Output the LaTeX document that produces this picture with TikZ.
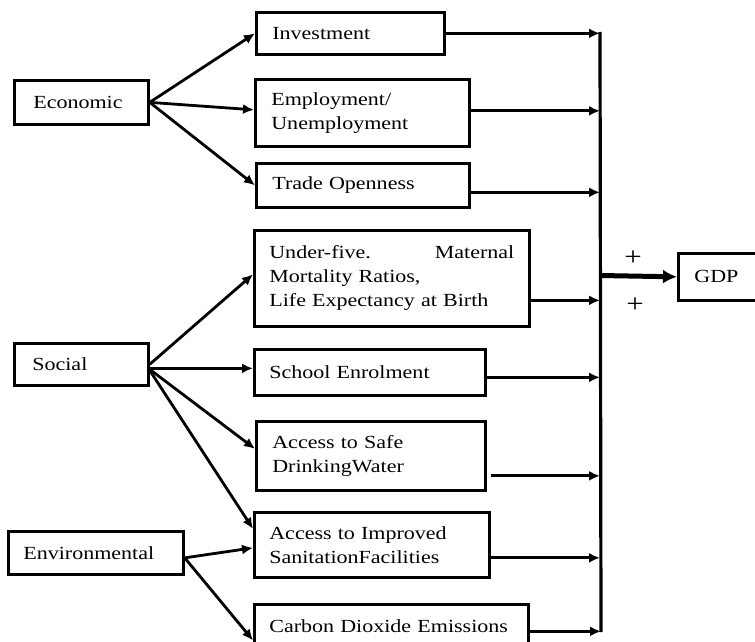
\documentclass[tikz,border=0pt]{standalone}
\usepackage{fontspec}
\setmainfont{Liberation Serif}[FakeStretch=1.19]
\usetikzlibrary{arrows.meta}
\begin{document}
\begin{tikzpicture}[x=1pt,y=-1pt,
  box/.style={draw, line width=2.7pt, anchor=north west, align=left,
    font=\fontsize{18.5}{24}\selectfont, inner ysep=0pt},
  conn/.style={line width=2.8pt, -{Latex[length=11pt,width=10pt]}},
  plus/.style={font=\fontsize{26}{26}\selectfont, inner sep=0pt}]
\clip (0,0) rectangle (755,642);
\useasboundingbox (0,0) rectangle (755,642);
% left category boxes
\node[box, minimum width=134pt, minimum height=44pt, text width=96pt, inner xsep=19pt] (eco) at (13,79) {Economic};
\node[box, minimum width=134pt, minimum height=42pt, text width=98pt, inner xsep=18pt] (soc) at (13,342) {Social};
\node[box, minimum width=175pt, minimum height=43pt, text width=145pt, inner xsep=15pt] (env) at (7,530) {Environmental};
% middle indicator boxes
\node[box, minimum width=188pt, minimum height=42pt, text width=156pt, inner xsep=16pt] (inv) at (255,11) {Investment};
\node[box, minimum width=214pt, minimum height=67pt, text width=182pt, inner xsep=16pt] (emp) at (254,78) {Employment/\\Unemployment};
\node[box, minimum width=213pt, minimum height=44pt, text width=181pt, inner xsep=16pt] (trade) at (255,162) {Trade Openness};
\node[box, minimum width=275pt, minimum height=96pt, text width=245pt, inner xsep=15pt] (under) at (253,229) {Under-five.\hfill Maternal\\Mortality Ratios,\\Life Expectancy at Birth};
\node[box, minimum width=231pt, minimum height=46pt, text width=201pt, inner xsep=15pt] (school) at (253,348) {School Enrolment};
\node[box, minimum width=229pt, minimum height=69pt, text width=197pt, inner xsep=16pt] (safe) at (255,420) {Access to Safe\\DrinkingWater};
\node[box, minimum width=235pt, minimum height=65pt, text width=205pt, inner xsep=15pt] (impr) at (253,511) {Access to Improved\\SanitationFacilities};
\node[box, minimum width=274pt, minimum height=44pt, text width=244pt, inner xsep=15pt] (carbon) at (253,603) {Carbon Dioxide Emissions};
% GDP
\node[box, minimum width=95pt, minimum height=47pt, text width=63pt, inner xsep=16pt] (gdp) at (677,252) {GDP};
% bus
\coordinate (bustop) at (600,32);
\coordinate (busbot) at (601,632);
\coordinate (busout) at (600,275.5);
\draw[line width=3.2pt] (bustop) -- (busbot);
% economic arrows
\draw[conn] (eco.east) -- (inv.west);
\draw[conn] (eco.east) -- ([yshift=3pt]emp.west);
\draw[conn] (eco.east) -- (trade.west);
% social arrows
\draw[conn] (soc.east) -- ([yshift=4pt]under.west);
\draw[conn] ([yshift=-4pt]soc.east) -- ([yshift=4pt]school.west);
\draw[conn] ([yshift=-5pt]soc.east) -- ([yshift=7pt]safe.west);
\draw[conn] ([yshift=-6pt]soc.east) -- ([yshift=16pt]impr.west);
% environmental arrows
\draw[conn] ([yshift=-5pt]env.east) -- ([yshift=-3pt]impr.west);
\draw[conn] ([yshift=-5pt]env.east) -- ([yshift=-14pt]carbon.west);
% to the bus
\draw[conn] (inv.east) -- (inv.east -| bustop);
\draw[conn] ([yshift=2pt]emp.east) -- ([yshift=2pt]emp.east -| bustop);
\draw[conn] ([yshift=-7pt]trade.east) -- ([yshift=-7pt]trade.east -| bustop);
\draw[conn] ([yshift=-22pt]under.east) -- ([yshift=-22pt]under.east -| bustop);
\draw[conn] ([yshift=-5pt]school.east) -- ([yshift=-5pt]school.east -| bustop);
\draw[conn] ([xshift=4pt,yshift=-20pt]safe.east) -- ([yshift=-20pt]safe.east -| bustop);
\draw[conn] ([yshift=-13pt]impr.east) -- ([yshift=-13pt]impr.east -| bustop);
\draw[conn] ([yshift=-5pt]carbon.east) -- ([yshift=-5pt]carbon.east -| busbot);
% to GDP
\draw[line width=5pt, -{Latex[length=14pt,width=14pt]}] (busout) -- (gdp.west);
\node[plus] (p1) at (633,258) {+};
\node[plus] (p2) at (635,305) {+};
\end{tikzpicture}
\end{document}
